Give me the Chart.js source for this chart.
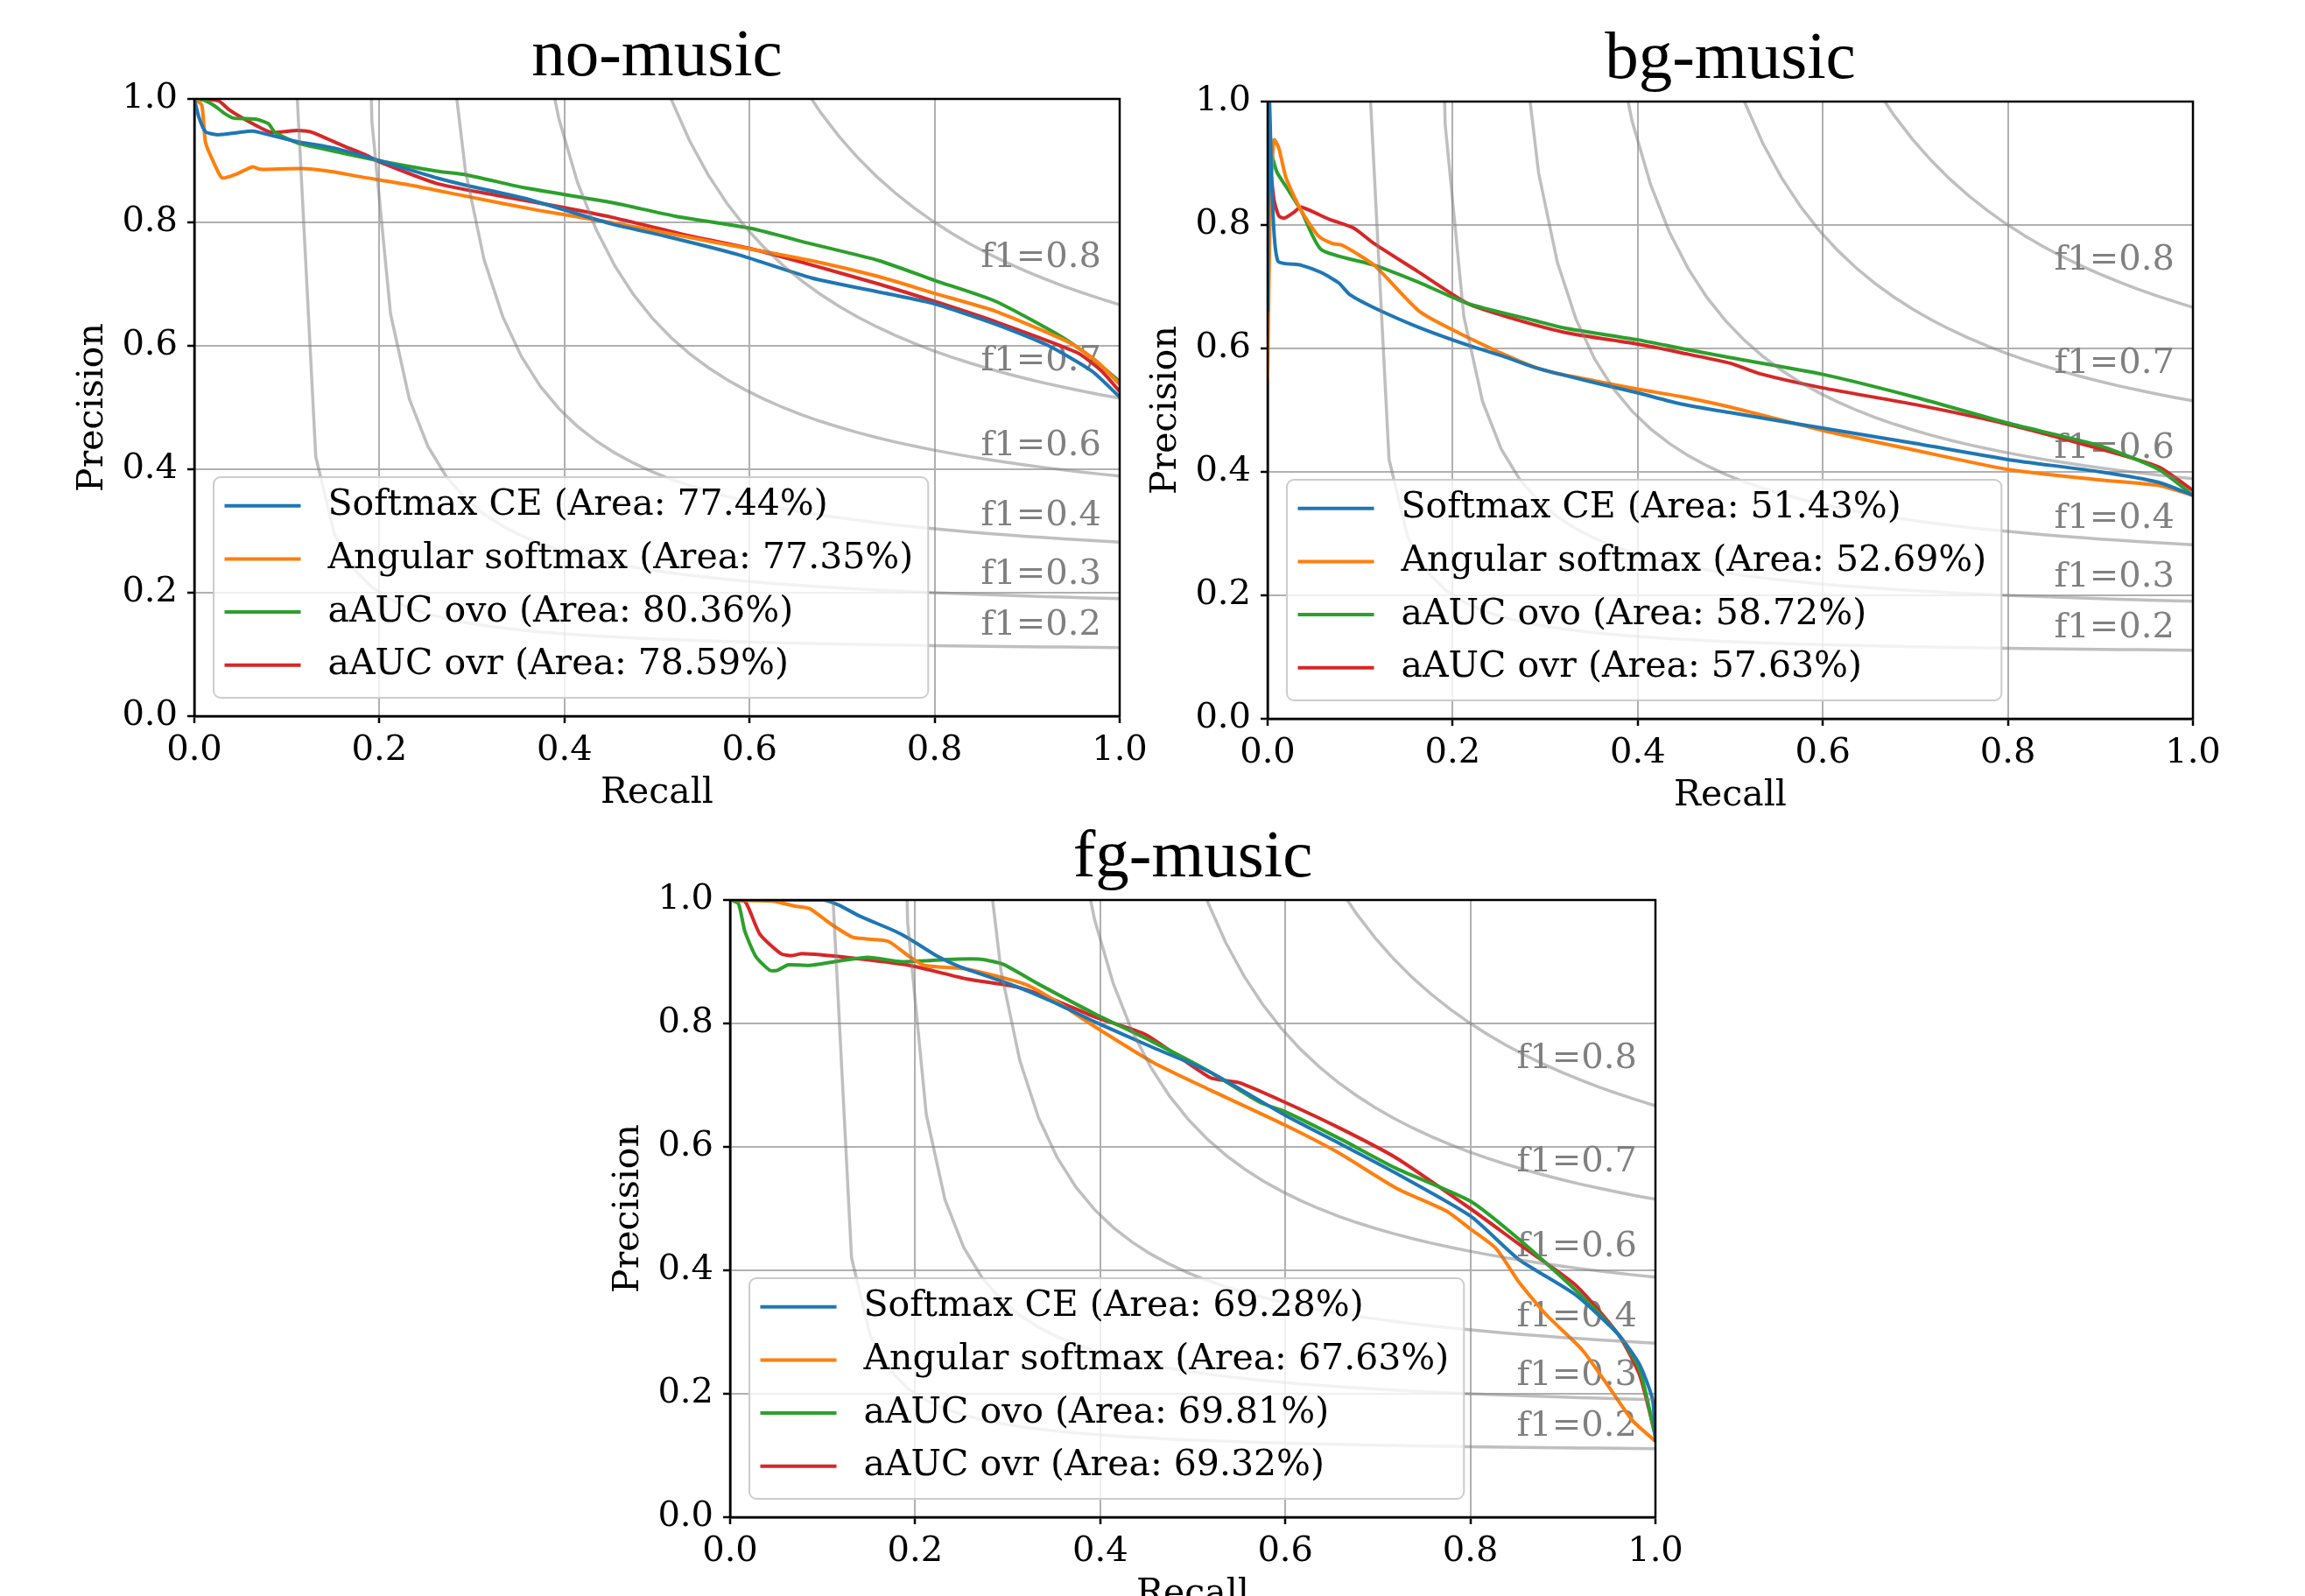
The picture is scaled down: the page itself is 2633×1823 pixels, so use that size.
<!DOCTYPE html>
<html>
<head>
<meta charset="utf-8">
<script src="https://cdn.jsdelivr.net/npm/chart.js@4.4.0/dist/chart.umd.min.js"></script>
<style>
  html, body { margin: 0; padding: 0; background: #fff; overflow: hidden; width: 2633px; height: 1823px; }
  canvas { position: absolute; }
</style>
</head>
<body>
<canvas id="noMusic" width="1339" height="933" style="left:0px;top:0px"></canvas>
<canvas id="bgMusic" width="1339" height="933" style="left:1226px;top:3px"></canvas>
<canvas id="fgMusic" width="1339" height="933" style="left:612px;top:915px"></canvas>
<script>
/* ---- data: [recall, precision] ---- */
const seriesNames = ['Softmax CE', 'Angular softmax', 'aAUC ovo', 'aAUC ovr'];
const seriesColors = ['#1f77b4', '#ff7f0e', '#2ca02c', '#d62728'];
const f1Scores = [0.2, 0.32, 0.44, 0.56, 0.68, 0.8];
const axisTicks = [0, 0.2, 0.4, 0.6, 0.8, 1.0];

const noMusicArea = [77.44, 77.35, 80.36, 78.59];
const bgMusicArea = [51.43, 52.69, 58.72, 57.63];
const fgMusicArea = [69.28, 67.63, 69.81, 69.32];

const noMusicSoftmax = [[0,1.0],[0.005,0.97],[0.012,0.947],[0.025,0.942],[0.045,0.945],[0.063,0.948],[0.083,0.941],[0.111,0.931],[0.152,0.92],[0.2,0.9],[0.262,0.872],[0.294,0.86],[0.357,0.839],[0.452,0.797],[0.508,0.778],[0.587,0.748],[0.667,0.71],[0.747,0.685],[0.8,0.668],[0.866,0.635],[0.922,0.601],[0.97,0.559],[1.0,0.517]];
const noMusicAngular = [[0,1.0],[0.008,0.99],[0.012,0.93],[0.02,0.9],[0.03,0.872],[0.045,0.878],[0.063,0.89],[0.071,0.886],[0.1,0.887],[0.122,0.887],[0.15,0.882],[0.175,0.875],[0.235,0.86],[0.295,0.842],[0.37,0.82],[0.453,0.799],[0.52,0.78],[0.6,0.757],[0.667,0.738],[0.74,0.712],[0.8,0.685],[0.866,0.656],[0.946,0.605],[0.975,0.575],[1.0,0.538]];
const noMusicOvo = [[0,1.0],[0.01,0.998],[0.0195,0.991],[0.027,0.983],[0.033,0.976],[0.042,0.969],[0.067,0.967],[0.08,0.96],[0.087,0.946],[0.111,0.929],[0.136,0.92],[0.199,0.9],[0.262,0.883],[0.294,0.877],[0.357,0.856],[0.452,0.832],[0.52,0.81],[0.602,0.79],[0.667,0.765],[0.74,0.738],[0.8,0.706],[0.866,0.672],[0.938,0.614],[0.97,0.58],[1.0,0.542]];
const noMusicOvr = [[0,1.0],[0.026,0.997],[0.038,0.982],[0.057,0.965],[0.083,0.946],[0.111,0.949],[0.127,0.946],[0.161,0.924],[0.184,0.91],[0.2,0.898],[0.262,0.863],[0.326,0.844],[0.389,0.827],[0.452,0.808],[0.53,0.78],[0.602,0.757],[0.667,0.731],[0.74,0.7],[0.8,0.672],[0.866,0.639],[0.954,0.589],[0.98,0.56],[1.0,0.526]];

const bgMusicSoftmax = [[0,0.66],[0.002,1.0],[0.005,0.85],[0.011,0.742],[0.036,0.735],[0.058,0.723],[0.077,0.706],[0.089,0.687],[0.115,0.666],[0.162,0.635],[0.217,0.605],[0.257,0.586],[0.289,0.569],[0.352,0.545],[0.4,0.528],[0.447,0.51],[0.5,0.496],[0.6,0.471],[0.7,0.446],[0.8,0.42],[0.9,0.4],[0.963,0.383],[1.0,0.362]];
const bgMusicAngular = [[0,0.55],[0.003,0.85],[0.007,0.938],[0.012,0.925],[0.02,0.876],[0.036,0.824],[0.055,0.782],[0.07,0.77],[0.081,0.767],[0.115,0.735],[0.165,0.659],[0.219,0.616],[0.273,0.579],[0.305,0.562],[0.352,0.548],[0.4,0.534],[0.447,0.522],[0.5,0.505],[0.6,0.467],[0.7,0.435],[0.8,0.404],[0.9,0.387],[0.963,0.378],[1.0,0.362]];
const bgMusicOvo = [[0,1.0],[0.002,0.97],[0.004,0.919],[0.01,0.886],[0.02,0.862],[0.036,0.824],[0.058,0.76],[0.115,0.735],[0.162,0.708],[0.216,0.673],[0.289,0.645],[0.321,0.633],[0.4,0.614],[0.447,0.6],[0.5,0.585],[0.6,0.558],[0.7,0.521],[0.8,0.479],[0.9,0.442],[0.963,0.404],[1.0,0.362]];
const bgMusicOvr = [[0,0.83],[0.002,0.9],[0.007,0.84],[0.012,0.815],[0.018,0.811],[0.028,0.82],[0.036,0.829],[0.067,0.809],[0.093,0.795],[0.115,0.77],[0.162,0.725],[0.216,0.673],[0.257,0.652],[0.321,0.626],[0.4,0.607],[0.447,0.593],[0.5,0.576],[0.532,0.559],[0.6,0.536],[0.7,0.509],[0.8,0.477],[0.9,0.437],[0.963,0.408],[1.0,0.37]];

const fgMusicSoftmax = [[0,1.0],[0.101,1.0],[0.117,0.992],[0.14,0.974],[0.179,0.949],[0.194,0.937],[0.225,0.908],[0.248,0.892],[0.302,0.864],[0.349,0.835],[0.395,0.802],[0.457,0.761],[0.519,0.721],[0.6,0.651],[0.658,0.606],[0.72,0.557],[0.8,0.488],[0.852,0.418],[0.913,0.361],[0.96,0.296],[0.983,0.247],[0.997,0.19],[1.0,0.122]];
const fgMusicAngular = [[0,1.0],[0.047,0.998],[0.07,0.99],[0.086,0.986],[0.109,0.961],[0.132,0.94],[0.147,0.937],[0.171,0.933],[0.194,0.908],[0.21,0.894],[0.256,0.888],[0.318,0.864],[0.349,0.839],[0.395,0.794],[0.457,0.737],[0.519,0.692],[0.6,0.635],[0.658,0.59],[0.72,0.533],[0.774,0.496],[0.8,0.467],[0.828,0.435],[0.852,0.382],[0.882,0.328],[0.921,0.271],[0.952,0.206],[0.975,0.157],[1.0,0.123]];
const fgMusicOvo = [[0,1.0],[0.009,0.994],[0.016,0.949],[0.028,0.908],[0.043,0.886],[0.051,0.886],[0.063,0.895],[0.086,0.894],[0.148,0.907],[0.186,0.9],[0.241,0.904],[0.271,0.904],[0.295,0.896],[0.333,0.864],[0.395,0.815],[0.457,0.77],[0.519,0.721],[0.573,0.672],[0.6,0.657],[0.658,0.614],[0.72,0.565],[0.8,0.512],[0.852,0.451],[0.913,0.369],[0.96,0.296],[0.983,0.239],[1.0,0.13]];
const fgMusicOvr = [[0,1.0],[0.016,0.998],[0.032,0.945],[0.055,0.913],[0.067,0.91],[0.078,0.913],[0.125,0.907],[0.194,0.894],[0.256,0.872],[0.31,0.859],[0.349,0.839],[0.395,0.81],[0.449,0.782],[0.519,0.712],[0.55,0.704],[0.6,0.672],[0.658,0.631],[0.72,0.582],[0.8,0.5],[0.852,0.443],[0.913,0.377],[0.96,0.296],[0.983,0.23],[1.0,0.132]];

const SERIF = 'DejaVu Serif';
Chart.defaults.font.family = SERIF;
Chart.defaults.color = '#000';

// iso-F1 guide: precision = f*r / (2r - f), sampled like np.linspace(0.01, 1, 50)
function isoF1(f) {
  const pts = [];
  for (let i = 0; i < 50; i++) {
    const r = 0.01 + i * 0.99 / 49;
    const p = f * r / (2 * r - f);
    if (p >= 0) pts.push({ x: r, y: p });
  }
  return pts;
}

// "f1=0.x" labels next to each iso curve
const f1Labels = {
  id: 'f1Labels',
  beforeDatasetsDraw(chart) {
    const { ctx, scales: { x, y } } = chart;
    const r45 = 0.01 + 45 * 0.99 / 49;
    ctx.save();
    ctx.font = '40px "' + SERIF + '"';
    ctx.fillStyle = '#808080';
    ctx.textBaseline = 'alphabetic';
    ctx.textAlign = 'left';
    f1Scores.forEach(f => {
      const p = f * r45 / (2 * r45 - f) + 0.02;
      ctx.fillText('f1=' + f.toFixed(1), x.getPixelForValue(0.85), y.getPixelForValue(p));
    });
    ctx.restore();
  }
};

// black box round the axes (spines)
const frame = {
  id: 'frame',
  afterDatasetsDraw(chart) {
    const { ctx, chartArea: a } = chart;
    ctx.save();
    ctx.strokeStyle = '#000';
    ctx.lineWidth = 2.5;
    ctx.strokeRect(a.left, a.top, a.right - a.left, a.bottom - a.top);
    ctx.restore();
  }
};

// matplotlib style legend, lower left inside the axes
const boxLegend = {
  id: 'boxLegend',
  afterDatasetsDraw(chart) {
    const { ctx, chartArea: a } = chart;
    const items = chart.data.datasets.filter(d => d.inLegend);
    ctx.save();
    ctx.font = '41px "' + SERIF + '"';
    const textW = Math.max(...items.map(d => ctx.measureText(d.label).width));
    const rowH = 60.7;
    const w = 130.5 + textW + 17, h = 252;
    const x0 = a.left + 22, y0 = a.bottom - 21 - h;
    ctx.beginPath();
    ctx.roundRect(x0, y0, w, h, 8);
    ctx.fillStyle = 'rgba(255,255,255,0.8)';
    ctx.fill();
    ctx.strokeStyle = '#cccccc';
    ctx.lineWidth = 2;
    ctx.stroke();
    items.forEach((d, i) => {
      const yy = y0 + 32.7 + i * rowH;
      ctx.beginPath();
      ctx.moveTo(x0 + 12.5, yy);
      ctx.lineTo(x0 + 99.5, yy);
      ctx.strokeStyle = d.borderColor;
      ctx.lineWidth = 4;
      ctx.stroke();
      ctx.fillStyle = '#000';
      ctx.textBaseline = 'middle';
      ctx.fillText(d.label, x0 + 130.5, yy);
    });
    ctx.restore();
  }
};

function axis(title, isX) {
  return {
    type: 'linear',
    min: 0, max: 1,
    afterBuildTicks: s => { s.ticks = axisTicks.map(v => ({ value: v })); },
    afterFit: s => { if (isX) s.height = 115; else s.width = 222; },
    ticks: {
      font: { size: 40 },
      color: '#000',
      padding: isX ? 8 : 11,
      maxRotation: 0,
      autoSkip: false,
      callback: v => Number(v).toFixed(1)
    },
    grid: { color: '#b0b0b0', lineWidth: 2, tickColor: '#000', tickLength: 8, tickWidth: 2.5 },
    border: { display: true, color: '#000', width: 2.5 },
    title: {
      display: true, text: title, color: '#000',
      font: { size: 41, lineHeight: 1.2 },
      padding: isX ? { top: 0, bottom: 2 } : { top: 82, bottom: 0 }
    }
  };
}

function makePanel(id, name, curves, areas) {
  const datasets = f1Scores.map(f => ({
    label: 'iso f1 ' + f,
    data: isoF1(f),
    borderColor: 'rgba(128,128,128,0.5)',
    borderWidth: 3.5,
    pointRadius: 0,
    showLine: true,
    tension: 0,
    clip: 0,
    inLegend: false
  }));
  curves.forEach((c, i) => datasets.push({
    label: seriesNames[i] + ' (Area: ' + areas[i].toFixed(2) + '%)',
    data: c.map(([r, p]) => ({ x: r, y: p })),
    borderColor: seriesColors[i],
    borderWidth: 4,
    pointRadius: 0,
    showLine: true,
    tension: 0.2,
    clip: 1,
    inLegend: true
  }));
  new Chart(document.getElementById(id), {
    type: 'scatter',
    data: { datasets: datasets },
    options: {
      responsive: false,
      devicePixelRatio: 1,
      animation: false,
      layout: { padding: { left: 0, top: 0, right: 60, bottom: 0 } },
      scales: { x: axis('Recall', true), y: axis('Precision', false) },
      plugins: {
        legend: { display: false },
        tooltip: { enabled: false },
        title: {
          display: true, text: name, color: '#000', fullSize: false,
          font: { family: 'Liberation Serif', size: 77, weight: 'normal', lineHeight: 1.2 },
          padding: { top: 19.5, bottom: 1.1 }
        }
      }
    },
    plugins: [f1Labels, frame, boxLegend]
  });
}

makePanel('noMusic', 'no-music', [noMusicSoftmax, noMusicAngular, noMusicOvo, noMusicOvr], noMusicArea);
makePanel('bgMusic', 'bg-music', [bgMusicSoftmax, bgMusicAngular, bgMusicOvo, bgMusicOvr], bgMusicArea);
makePanel('fgMusic', 'fg-music', [fgMusicSoftmax, fgMusicAngular, fgMusicOvo, fgMusicOvr], fgMusicArea);
</script>
</body>
</html>
